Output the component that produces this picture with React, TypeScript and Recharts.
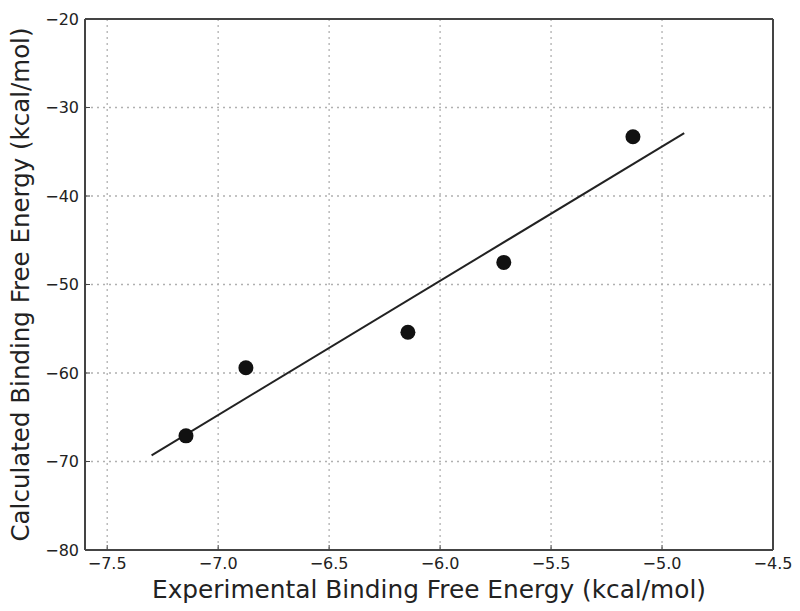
import React from "react";
import { ScatterChart, Scatter, XAxis, YAxis, CartesianGrid } from "recharts";

const expValues = [-7.145, -6.875, -6.145, -5.713, -5.131];
const calcValues = [-67.1, -59.4, -55.4, -47.5, -33.3];
const fitX = [-7.3, -4.9];
const fitY = [-69.3, -32.9];
const xTicks = [-7.5, -7.0, -6.5, -6.0, -5.5, -5.0, -4.5];
const yTicks = [-80, -70, -60, -50, -40, -30, -20];

const points = expValues.map((x, i) => ({ x, y: calcValues[i] }));
const fit = fitX.map((x, i) => ({ x, y: fitY[i] }));

const fmtX = (v: number) => v.toFixed(1).replace("-", "\u2212");
const fmtY = (v: number) => String(v).replace("-", "\u2212");

const font = "DejaVu Sans, sans-serif";
const axisStroke = "#444";
const textFill = "#222";

export default function App() {
  return (
    <div style={{ position: "absolute", left: 0, top: 0, background: "#fff" }}>
      <ScatterChart
        width={800}
        height={611}
        margin={{ top: 18, right: 26, bottom: 0, left: 0 }}
      >
        <CartesianGrid
          xAxisId="b"
          yAxisId="l"
          stroke="#b0b0b0"
          strokeDasharray="2 4"
          strokeWidth={1.3}
        />
        <XAxis
          xAxisId="b"
          type="number"
          dataKey="x"
          domain={[-7.6, -4.5]}
          ticks={xTicks}
          tickFormatter={fmtX}
          allowDataOverflow
          height={61}
          stroke={axisStroke}
          axisLine={{ stroke: axisStroke, strokeWidth: 2 }}
          tickSize={-5}
          tickMargin={13}
          tick={{ fill: textFill, fontSize: 16, fontFamily: font }}
          label={{
            value: "Experimental Binding Free Energy (kcal/mol)",
            position: "insideBottom",
            offset: 13,
            fill: textFill,
            fontSize: 24.8,
            fontFamily: font,
          }}
        />
        <XAxis
          xAxisId="t"
          orientation="top"
          type="number"
          dataKey="x"
          domain={[-7.6, -4.5]}
          ticks={xTicks}
          allowDataOverflow
          height={1}
          stroke={axisStroke}
          axisLine={{ stroke: axisStroke, strokeWidth: 2 }}
          tickSize={-5}
          tickLine={{ stroke: axisStroke }}
          tick={false}
        />
        <YAxis
          yAxisId="l"
          type="number"
          dataKey="y"
          domain={[-80, -20]}
          ticks={yTicks}
          tickFormatter={fmtY}
          allowDataOverflow
          width={85}
          stroke={axisStroke}
          axisLine={{ stroke: axisStroke, strokeWidth: 2 }}
          tickSize={-5}
          tickMargin={11}
          tick={{ fill: textFill, fontSize: 16, fontFamily: font }}
          label={{
            value: "Calculated Binding Free Energy (kcal/mol)",
            angle: -90,
            position: "insideLeft",
            offset: 20,
            style: { textAnchor: "middle" },
            fill: textFill,
            fontSize: 24.5,
            fontFamily: font,
          }}
        />
        <YAxis
          yAxisId="r"
          orientation="right"
          type="number"
          dataKey="y"
          domain={[-80, -20]}
          ticks={yTicks}
          allowDataOverflow
          width={1}
          stroke={axisStroke}
          axisLine={{ stroke: axisStroke, strokeWidth: 2 }}
          tickSize={-5}
          tickLine={{ stroke: axisStroke }}
          tick={false}
        />
        <Scatter
          xAxisId="b"
          yAxisId="l"
          data={fit}
          line={{ stroke: "#222", strokeWidth: 2 }}
          shape={() => null}
          isAnimationActive={false}
        />
        <Scatter
          xAxisId="b"
          yAxisId="l"
          data={points}
          fill="#111"
          shape={(p: any) => <circle cx={p.cx} cy={p.cy} r={7.5} fill="#111" />}
          isAnimationActive={false}
        />
      </ScatterChart>
    </div>
  );
}
